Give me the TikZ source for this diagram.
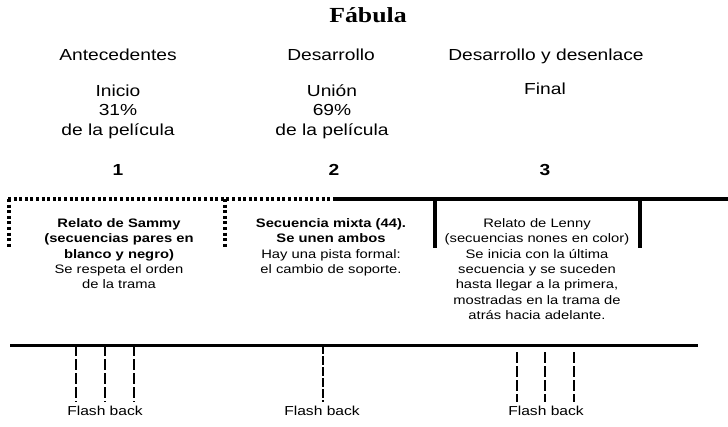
\documentclass[tikz,border=0pt]{standalone}
\usepackage{fontspec}
\setmainfont{Liberation Sans}[FakeStretch=1.2]
\newfontfamily\titlefont{Liberation Serif}[FakeStretch=1.2]

\tikzset{
  head/.style={anchor=base, inner sep=0pt, align=center, font=\fontsize{16}{19.5}\selectfont},
  boxtext/.style={anchor=base, inner sep=0pt, align=center, font=\fontsize{12.3}{15.3}\selectfont},
  fbtext/.style={anchor=base, inner sep=0pt, font=\fontsize{13}{15}\selectfont},
  dotline/.style={line width=3.5pt, dash pattern=on 3pt off 2.6pt},
  fbline/.style={line width=2.5pt, dash pattern=on 11pt off 3pt},
}

\begin{document}
\begin{tikzpicture}[x=1pt, y=-1pt]
    \useasboundingbox (0,0) rectangle (728,426);

    \node[anchor=base, inner sep=0pt, font=\titlefont\bfseries\fontsize{21.5}{24}\selectfont] (T) at (368,22) {Fábula};

    \node[head] (Ant) at (118,60) {Antecedentes};
    \node[head] (Des) at (331,60) {Desarrollo};
    \node[head] (Fin) at (546,60) {Desarrollo y desenlace};

    % anchor=base: la ultima linea cae en la coordenada
    \node[head] (Ini) at (118,135) {Inicio\\31\%\\de la película};
    \node[head] (Uni) at (332,135) {Unión\\69\%\\de la película};
    \node[head] (Fnl) at (545,94) {Final};

    \node[head, font=\fontsize{16}{19.5}\selectfont\bfseries] (N1) at (118,175) {1};
    \node[head, font=\fontsize{16}{19.5}\selectfont\bfseries] (N2) at (334,175) {2};
    \node[head, font=\fontsize{16}{19.5}\selectfont\bfseries] (N3) at (545,175) {3};

    % linea superior
    \coordinate (p0) at (8,199);
    \coordinate (p1) at (333,199);
    \coordinate (p2) at (728,199);
    \draw[dotline] (p0) -- (p1);
    \draw[line width=4.5pt] (p1) -- (p2);

    \coordinate (v1) at (9,248);
    \coordinate (v2) at (225,248);
    \coordinate (v3) at (435,248);
    \coordinate (v4) at (640,248);
    \draw[dotline] (9,199) -- (v1);
    \draw[dotline] (225,199) -- (v2);
    \draw[line width=3.5pt] (435,199) -- (v3);
    \draw[line width=3.5pt] (640,199) -- (v4);

    \node[boxtext] (Sam) at (119,288.7) {\textbf{Relato de Sammy}\\\textbf{(secuencias pares en}\\\textbf{blanco y negro)}\\Se respeta el orden\\de la trama};
    \node[boxtext] (Mix) at (331,273.4) {\textbf{Secuencia mixta (44).}\\\textbf{Se unen ambos}\\Hay una pista formal:\\el cambio de soporte.};
    \node[boxtext] (Len) at (537,319.3) {Relato de Lenny\\(secuencias nones en color)\\Se inicia con la última\\secuencia y se suceden\\hasta llegar a la primera,\\mostradas en la trama de\\atrás hacia adelante.};

    % linea inferior y flash backs
    \coordinate (b0) at (10,345);
    \coordinate (b1) at (698,345);
    \draw[line width=3pt] (b0) -- (b1);

    \draw[fbline] (76,345) -- (76,402);
    \draw[fbline] (105,345) -- (105,402);
    \draw[fbline] (134,345) -- (134,402);
    \draw[line width=1.5pt, dash pattern=on 9pt off 2pt] (323,345) -- (323,402);
    \draw[fbline] (517,352) -- (517,402);
    \draw[fbline] (545,352) -- (545,402);
    \draw[fbline] (574,352) -- (574,402);

    \node[fbtext] (F1) at (105,415) {Flash back};
    \node[fbtext] (F2) at (322,415) {Flash back};
    \node[fbtext] (F3) at (546,415) {Flash back};

\end{tikzpicture}
\end{document}
